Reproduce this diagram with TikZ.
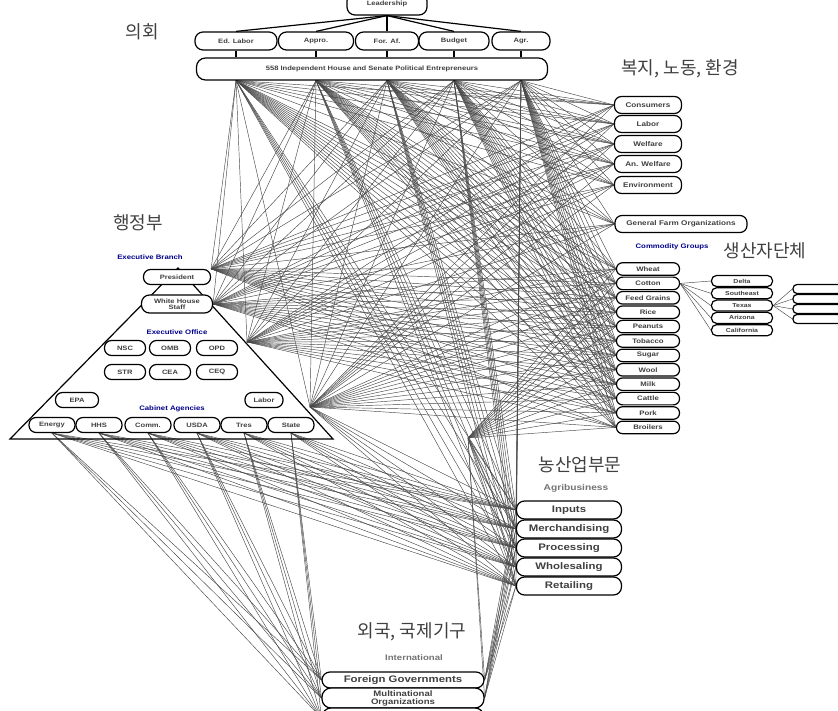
\documentclass[tikz,border=0pt]{standalone}
\usepackage{fontspec}
\setsansfont{Liberation Sans}
\newfontfamily\kr{Noto Sans CJK KR}
\newfontfamily\bx[FakeStretch=1.2]{Liberation Sans}
\usetikzlibrary{backgrounds}

\begin{document}
\begin{tikzpicture}[x=1pt,y=-1pt,
    box/.style={draw, line width=1.2pt, rounded corners=6pt, fill=white, inner sep=1pt, text=black!75, font=\bx\bfseries\fontsize{6.3}{6.5}\selectfont},
    lbl/.style={text=blue!55!black, font=\bx\bfseries\fontsize{6.5}{7}\selectfont},
    kor/.style={font=\kr\fontsize{18}{18}\selectfont, text=black!75},
    link/.style={black!72, line width=0.45pt},
    bond/.style={line width=1.2pt}]
    \useasboundingbox (0,0) rectangle (838,711);

    \draw[bond](178,268)--(10,439)--(333,439)--cycle;

    \node[kor](kcon)at(142,32){의회};
    \node[kor](kwel)at(680,69){복지, 노동, 환경};
    \node[kor](kexe)at(138,223){행정부};
    \node[kor](kcom)at(765,251){생산자단체};
    \node[kor](kagr)at(580,465){농산업부문};
    \node[kor](kint)at(412,632){외국, 국제기구};

    \node[box, minimum width=80, minimum height=22, rounded corners=8pt](lead)at(387,4){Leadership};
    \foreach \t/\x/\w [count=\i] in {Ed. Labor/236/82, Appro./316/75, For. Af./387/63, Budget/454/70, Agr./521/58}
        \node[box, minimum width=\w, minimum height=18, rounded corners=8pt](com\i)at(\x,41){\t};
    \node[box, minimum width=351, minimum height=22, rounded corners=9pt](bar)at(372,69){558 Independent House and Senate Political Entrepreneurs};
    \foreach \i in {1,...,5}{
        \draw[bond](lead.south)--(com\i.north);
        \draw[bond](com\i.south)--(com\i.south |- bar.north);
        \coordinate(c\i)at(com\i.south |- bar.south);
    }

    \foreach \t/\y [count=\i] in {Consumers/105, Labor/124, Welfare/144, An. Welfare/164, Environment/185}
        \node[box, minimum width=67, minimum height=17, rounded corners=7pt, font=\bx\bfseries\fontsize{6.8}{7}\selectfont](w\i)at(648,\y){\t};
    \node[box, minimum width=132, minimum height=17, rounded corners=7pt, font=\bx\bfseries\fontsize{6.8}{7}\selectfont](gf)at(681,224){General Farm Organizations};

    \node[lbl](cgl)at(672,247){Commodity Groups};
    \foreach \t [count=\i] in {Wheat, Cotton, Feed Grains, Rice, Peanuts, Tobacco, Sugar, Wool, Milk, Cattle, Pork, Broilers}
        \node[box, minimum width=63, minimum height=12.5, font=\bx\bfseries\fontsize{6.5}{7}\selectfont](cg\i)at(648,{254.6+14.4*\i}){\t};
    \foreach \t [count=\i] in {Delta, Southeast, Texas, Arizona, California}
        \node[box, minimum width=61, minimum height=11, rounded corners=5pt, font=\bx\bfseries\fontsize{5.8}{6}\selectfont](st\i)at(742,{268.7+12.3*\i}){\t};
    \foreach \i in {1,...,4}
        \node[box, minimum width=60, minimum height=9, rounded corners=4pt](rb\i)at(823,{279+10*\i}){};

    \node[lbl](ebl)at(150,257){Executive Branch};
    \node[box, minimum width=67, minimum height=15, rounded corners=7pt](pres)at(177,277){President};
    \node[box, minimum width=71, minimum height=18, rounded corners=8pt, align=center](whs)at(177,304){White House\\Staff};
    \node[lbl](eol)at(177,332){Executive Office};
    \foreach \t/\x/\y [count=\i] in {NSC/125/348, OMB/170/348, OPD/217/348, STR/125/372, CEA/170/372, CEQ/217/372}
        \node[box, minimum width=41, minimum height=15, rounded corners=7pt](eo\i)at(\x,\y){\t};
    \node[box, minimum width=43, minimum height=15, rounded corners=7pt](epa)at(77,400){EPA};
    \node[box, minimum width=38, minimum height=15, rounded corners=7pt](lab)at(264,400){Labor};
    \node[lbl](cal)at(172,409){Cabinet Agencies};
    \foreach \t/\x [count=\i] in {Energy/52, HHS/99, Comm./148, USDA/197, Tres/244, State/291}
        \node[box, minimum width=46, minimum height=15, rounded corners=7pt](ca\i)at(\x,425){\t};
    \coordinate(xo)at(247,342);
    \coordinate(xc)at(310,407);

    \node[lbl, text=black!55, font=\bx\bfseries\fontsize{8.5}{9}\selectfont](agl)at(576,488){Agribusiness};
    \foreach \t/\y [count=\i] in {Inputs/510, Merchandising/529, Processing/548, Wholesaling/567, Retailing/586}
        \node[box, minimum width=105, minimum height=18, rounded corners=8pt, font=\bx\bfseries\fontsize{9.5}{10}\selectfont](ag\i)at(569,\y){\t};
    \coordinate(ch)at(468,438);

    \node[lbl, text=black!55, font=\bx\bfseries\fontsize{8}{9}\selectfont](igl)at(414,658){International};
    \node[box, minimum width=162, minimum height=16, rounded corners=8pt, font=\bx\bfseries\fontsize{9.5}{10}\selectfont](ig1)at(403,680){Foreign Governments};
    \node[box, minimum width=162, minimum height=20, rounded corners=9pt, align=center, font=\bx\bfseries\fontsize{8}{8}\selectfont](ig2)at(403,698){Multinational\\Organizations};
    \node[box, minimum width=162, minimum height=20, rounded corners=9pt](ig3)at(403,718){};

    \begin{scope}[on background layer]
        \foreach \i in {1,...,5}{
            \foreach \j in {1,...,5} \draw[link](c\i)--(w\j.west);
            \draw[link](c\i)--(gf.west);
            \foreach \j in {1,...,12} \draw[link](c\i)--(cg\j.west);
            \foreach \j in {1,...,5} \draw[link](c\i)--(ag\j.west);
            \foreach \s in {pres.north east, whs.east, xo, xc} \draw[link](c\i)--(\s);
        }
        \foreach \s in {pres.north east, whs.east, xo, xc}{
            \foreach \j in {1,...,5} \draw[link](\s)--(w\j.west);
            \draw[link](\s)--(gf.west);
            \foreach \j in {1,...,12} \draw[link](\s)--(cg\j.west);
        }
        \foreach \j in {1,...,5} \draw[link](xc)--(ag\j.west);
        \foreach \i in {1,...,6}{
            \foreach \k in {1,2,3} \draw[link](ca\i.south)--(ig\k.west);
            \foreach \j in {1,...,5} \draw[link](ca\i.south)--(ag\j.west);
        }
        \foreach \j in {1,...,12} \draw[link](cg\j.west)--(ch);
        \foreach \j in {1,...,5}{
            \draw[link](ch)--(ag\j.west);
            \draw[link](ag\j.west)--(ig2.east);
            \draw[link](ag\j.west)--(ig1.east);
            \draw[link](cg2.east)--(st\j.west);
        }
        \draw[link](ch)--(ig1.east);
        \draw[link](ch)--(ig2.east);
        \foreach \j in {1,...,4} \draw[link](st3.east)--(rb\j.west);
    \end{scope}
\end{tikzpicture}
\end{document}
